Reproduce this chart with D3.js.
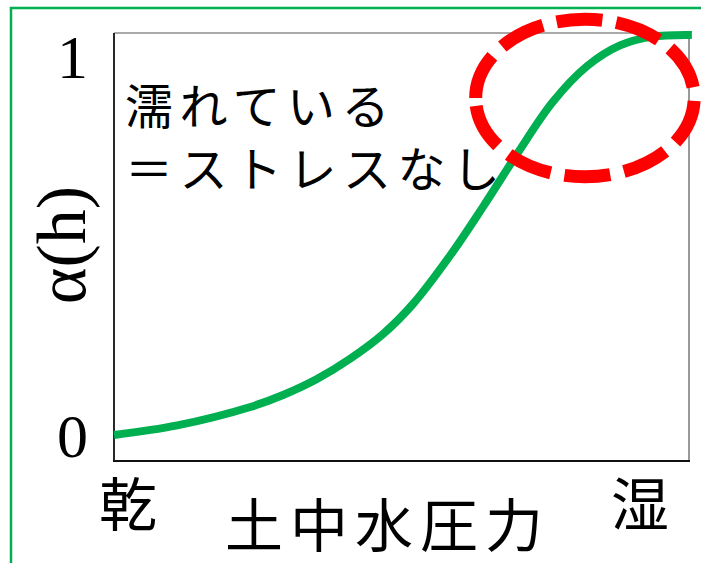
<!DOCTYPE html>
<html>
<head>
<meta charset="utf-8">
<script src="https://cdn.jsdelivr.net/npm/d3@7"></script>
<style>
  body { margin: 0; background: #fff; }
  svg { display: block; }
</style>
</head>
<body>
<div id="chart"></div>
<script>
// soil water pressure (0 = dry, 1 = wet)
var xVals = [0, 0.11, 0.237, 0.294, 0.353, 0.41, 0.468, 0.52, 0.584, 0.642, 0.701, 0.763, 0.823, 0.88, 0.937, 1.005];
// alpha(h)
var yVals = [0, 0.024, 0.07, 0.1, 0.14, 0.19, 0.2525, 0.3275, 0.4475, 0.571, 0.7025, 0.8325, 0.9225, 0.974, 0.996, 1.0];

var yTicks = [0, 1];
var xEndLabels = ["乾", "湿"];
var xTitle = "土中水圧力";
var yTitle = "α(h)";
var note = ["濡れている", "＝ストレスなし"];
// red dashed ellipse, in data units: centre x, centre y, radius x, radius y
var mark = {cx: 0.819, cy: 0.8425, rx: 0.19, ry: 0.197};

var width = 701, height = 563;
var green = "#00b050";
var jp = "'Noto Sans CJK JP', sans-serif";
var serif = "'Liberation Serif', 'Times New Roman', serif";

var x = d3.scaleLinear().domain([0, 1]).range([114, 689]);
var y = d3.scaleLinear().domain([-0.065, 1.005]).range([461, 33]);

var svg = d3.select("#chart").append("svg")
    .attr("width", width)
    .attr("height", height);

// outer green frame (runs off the right and bottom edges)
svg.append("rect")
    .attr("x", 11).attr("y", 8)
    .attr("width", width + 20).attr("height", height + 20)
    .attr("fill", "none")
    .attr("stroke", green)
    .attr("stroke-width", 2.5);

// plot frame
var x0 = x.range()[0], x1 = x.range()[1], yb = y.range()[0], yt = y.range()[1];
svg.append("line").attr("x1", x0).attr("x2", x1).attr("y1", yt).attr("y2", yt)
    .attr("stroke", "#555").attr("stroke-width", 1.2);
svg.append("line").attr("x1", x1).attr("x2", x1).attr("y1", yt).attr("y2", yb)
    .attr("stroke", "#555").attr("stroke-width", 1.2);
svg.append("line").attr("x1", x0).attr("x2", x0).attr("y1", yt).attr("y2", yb)
    .attr("stroke", "#111").attr("stroke-width", 1.8);
svg.append("line").attr("x1", x0 - 1).attr("x2", x1 + 1).attr("y1", yb).attr("y2", yb)
    .attr("stroke", "#111").attr("stroke-width", 2.2);

// y ticks 0 and 1
var yAxis = svg.append("g")
    .attr("transform", "translate(" + x0 + ",0)")
    .call(d3.axisLeft(y).tickValues(yTicks).tickSize(0).tickPadding(26).tickFormat(d3.format("d")));
yAxis.select(".domain").remove();
yAxis.selectAll("text")
    .attr("font-family", serif)
    .attr("font-size", 62)
    .attr("fill", "#000")
    .attr("dy", d => d === 1 ? "0.69em" : "0.34em");

// curve
var pts = xVals.map((v, i) => [v, yVals[i]]);
var line = d3.line()
    .x(d => x(d[0]))
    .y(d => y(d[1]))
    .curve(d3.curveCatmullRom);

svg.append("path")
    .datum(pts)
    .attr("d", line)
    .attr("fill", "none")
    .attr("stroke", green)
    .attr("stroke-width", 8);

// dashed ellipse, drawn clockwise from its left end
var ecx = x(mark.cx), ecy = y(mark.cy);
var erx = x(mark.cx + mark.rx) - ecx, ery = ecy - y(mark.cy + mark.ry);
svg.append("path")
    .attr("d", "M" + (ecx - erx) + "," + ecy +
      "A" + erx + "," + ery + " 0 1 1 " + (ecx + erx) + "," + ecy +
      "A" + erx + "," + ery + " 0 1 1 " + (ecx - erx) + "," + ecy)
    .attr("fill", "none")
    .attr("stroke", "#ff0000")
    .attr("stroke-width", 13)
    .attr("stroke-dasharray", "46,14");

// note text, two lines in one block
svg.append("text")
    .attr("font-family", jp)
    .attr("font-size", 48)
    .attr("letter-spacing", 6.5)
    .attr("fill", "#000")
    .selectAll("tspan")
    .data(note)
    .join("tspan")
    .attr("x", 125)
    .attr("y", (d, i) => 103 + i * 63)
    .attr("dominant-baseline", "central")
    .text(d => d);

// dry / wet ends
svg.selectAll(".end")
    .data(xEndLabels)
    .join("text")
    .attr("class", "end")
    .attr("x", (d, i) => i === 0 ? 128 : 640)
    .attr("y", 501)
    .attr("text-anchor", "middle")
    .attr("dominant-baseline", "central")
    .attr("font-family", jp)
    .attr("font-size", 58)
    .attr("fill", "#000")
    .text(d => d);

// axis titles
svg.append("text")
    .attr("x", 225)
    .attr("y", 522)
    .attr("dominant-baseline", "central")
    .attr("font-family", jp)
    .attr("font-size", 58)
    .attr("letter-spacing", 7)
    .attr("fill", "#000")
    .text(xTitle);

svg.append("text")
    .attr("transform", "translate(85,245) rotate(-90)")
    .attr("text-anchor", "middle")
    .attr("font-family", serif)
    .attr("font-size", 70)
    .attr("fill", "#000")
    .text(yTitle);
</script>
</body>
</html>
